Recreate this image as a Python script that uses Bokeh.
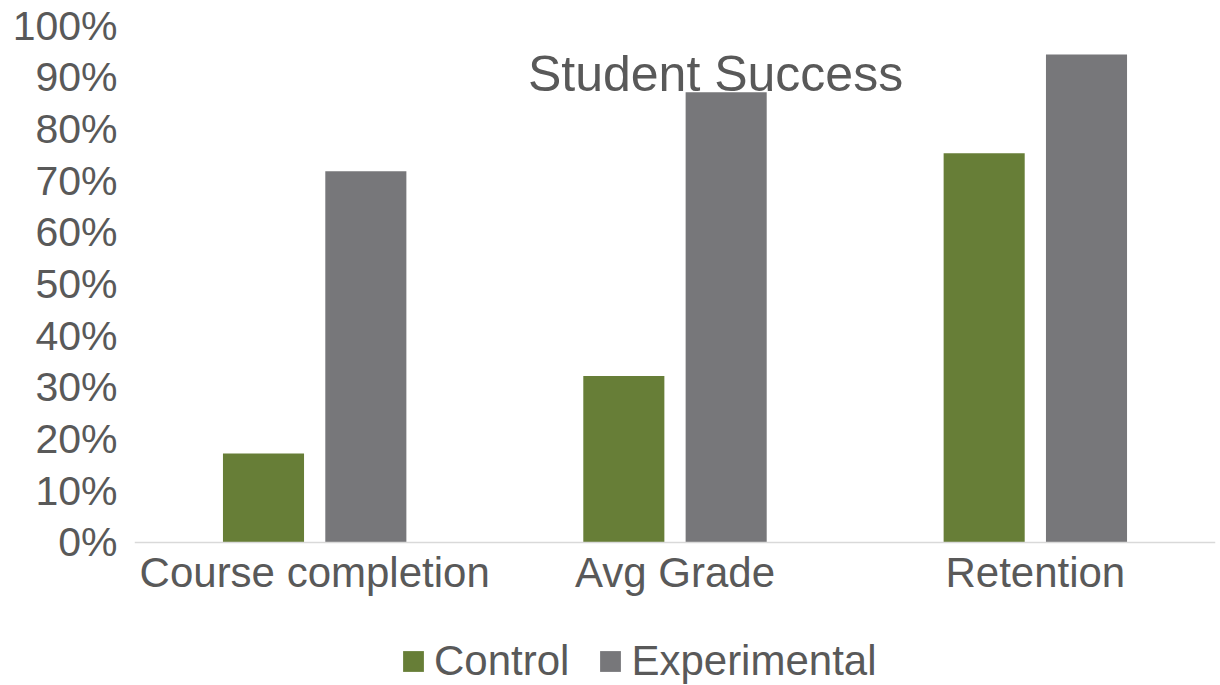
from bokeh.plotting import figure
from bokeh.models import (ColumnDataSource, FixedTicker, NumeralTickFormatter, Legend,
                          LegendItem, Label, Range1d, FactorRange, Span)
from bokeh.core.properties import value
from bokeh.transform import dodge
from bokeh.embed import file_html
from bokeh.resources import INLINE

categories = ["Course completion", "Avg Grade", "Retention"]
control = [0.172, 0.322, 0.753]
experimental = [0.718, 0.871, 0.944]
y_ticks = [0.0, 0.1, 0.2, 0.3, 0.4, 0.5, 0.6, 0.7, 0.8, 0.9, 1.0]
title_text = "Student Success"
series_names = ["Control", "Experimental"]

FONT = "Liberation Sans"
TXT = "#595959"
GREEN = "#677E37"
GRAY = "#77777A"

src = ColumnDataSource(dict(cat=categories, control=control, experimental=experimental))

# frame reaches the bottom of the canvas; the value axis spans 0..1 above the category labels
p = figure(width=1220, height=685, x_range=FactorRange(*categories),
           y_range=Range1d(-0.2766, 1.0), x_axis_location=None,
           output_backend="svg", toolbar_location=None,
           min_border_left=134, min_border_right=5, min_border_top=25, min_border_bottom=0)
p.outline_line_color = None
p.background_fill_color = "white"
p.border_fill_color = "white"
p.xgrid.grid_line_color = None
p.ygrid.grid_line_color = None

r1 = p.vbar(x=dodge("cat", -0.142, range=p.x_range), top="control", width=0.225,
            source=src, fill_color=GREEN, line_color=None)
r2 = p.vbar(x=dodge("cat", 0.142, range=p.x_range), top="experimental", width=0.225,
            source=src, fill_color=GRAY, line_color=None)

p.yaxis.ticker = FixedTicker(ticks=y_ticks)
p.yaxis.formatter = NumeralTickFormatter(format="0%")
p.yaxis.axis_line_color = None
p.yaxis.major_tick_line_color = None
p.yaxis.minor_tick_line_color = None
p.yaxis.major_label_text_font = FONT
p.yaxis.major_label_text_font_size = "41px"
p.yaxis.major_label_text_color = TXT
p.yaxis.major_label_standoff = 11

# category axis line and labels
p.add_layout(Span(location=0, dimension="width", line_color="#D9D9D9", line_width=1.5))
p.text(x="cat", y=-0.058, text="cat", source=src, text_font=value(FONT),
       text_font_size="42px", text_color=TXT, text_align="center",
       text_baseline="alphabetic")

title = Label(x=1.6125, y=0.907, text=title_text, text_font=FONT, text_font_size="50px",
              text_color=TXT, text_align="center", text_baseline="middle")
p.add_layout(title)

legend = Legend(items=[LegendItem(label=series_names[0], renderers=[r1]),
                       LegendItem(label=series_names[1], renderers=[r2])],
                orientation="horizontal", location=(266, 0),
                label_text_font=FONT, label_text_font_size="42px", label_text_color=TXT,
                glyph_width=26, glyph_height=26, label_standoff=8, spacing=28,
                border_line_color=None, background_fill_alpha=0, padding=0, margin=0)
p.add_layout(legend)

open("out.html", "w").write(file_html(p, INLINE))
